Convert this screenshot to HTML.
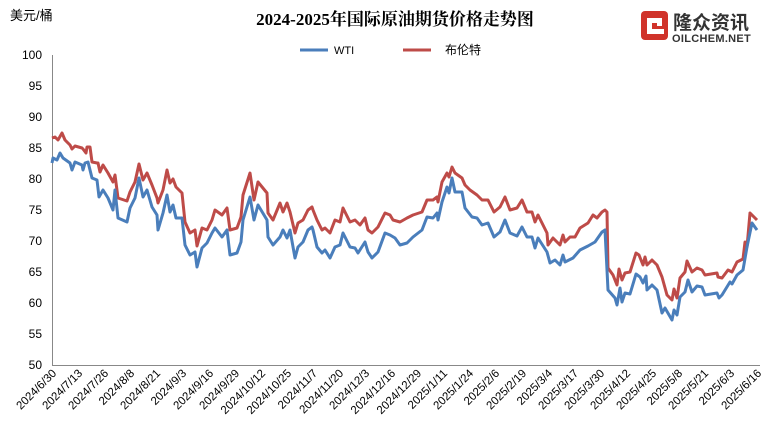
<!DOCTYPE html>
<html><head><meta charset="utf-8"><style>
body{margin:0;background:#fff;}
svg text{font-family:"Liberation Sans","Noto Sans CJK SC",sans-serif;}
</style></head><body>
<svg width="778" height="440" viewBox="0 0 778 440" xmlns="http://www.w3.org/2000/svg">
<rect width="778" height="440" fill="#fff"/>
<text x="10" y="20" font-size="13" fill="#000">美元/桶</text>
<text x="395" y="25" font-size="17" font-weight="bold" text-anchor="middle" style="font-family:'Liberation Serif','Noto Serif CJK SC',serif">2024-2025年国际原油期货价格走势图</text>
<rect x="641" y="11" width="27" height="29" rx="4" fill="#d0332a"/>
<rect x="647" y="18" width="15" height="5" fill="#fff"/>
<rect x="647" y="18" width="5" height="16" fill="#fff"/>
<rect x="647" y="29" width="17" height="5" fill="#fff"/>
<rect x="657" y="23" width="5" height="3" fill="#fff"/>
<text x="673" y="29" font-size="19" font-weight="bold" fill="#333">隆众资讯</text>
<text x="672" y="42" font-size="11" font-weight="bold" fill="#333" letter-spacing="0.3">OILCHEM.NET</text>
<line x1="300" y1="50" x2="328" y2="50" stroke="#4a7ebb" stroke-width="3"/>
<text x="334" y="54" font-size="11">WTI</text>
<line x1="403" y1="50" x2="431" y2="50" stroke="#be4b48" stroke-width="3"/>
<text x="445" y="54" font-size="12">布伦特</text>
<g font-size="12" text-anchor="end" fill="#000">
<text x="42" y="59">100</text>
<text x="42" y="90">95</text>
<text x="42" y="121">90</text>
<text x="42" y="152">85</text>
<text x="42" y="183">80</text>
<text x="42" y="214">75</text>
<text x="42" y="245">70</text>
<text x="42" y="276">65</text>
<text x="42" y="307">60</text>
<text x="42" y="338">55</text>
<text x="42" y="369">50</text>
</g>
<line x1="52.5" y1="55" x2="52.5" y2="365" stroke="#888" stroke-width="1"/>
<line x1="52" y1="365.5" x2="760" y2="365.5" stroke="#888" stroke-width="1"/>
<g stroke-width="3" fill="none" stroke-linejoin="round">
<polyline stroke="#be4b48" points="52,138 55,137 58,140 62,133 65,140 70,145 72,149 75,146 82,148 83,149 86,153 87,147 90,147 92,162 97,163 98,163 100,172 103,165 108,173 113,182 115,175 118,198 127,201 130,192 135,182 139,164 143,180 147,173 152,185 157,198 158,203 163,190 167,170 170,183 173,179 176,187 182,193 185,222 190,233 195,230 197,246 202,228 207,230 212,220 215,210 222,215 227,208 230,230 237,228 241,217 243,195 250,173 254,200 258,182 267,193 268,213 273,220 280,203 283,212 287,203 290,212 295,233 298,223 303,220 308,210 312,207 313,210 317,220 322,230 325,228 330,233 335,220 340,222 343,208 350,222 355,220 360,225 365,218 368,230 372,233 378,227 385,213 390,215 393,220 400,222 407,218 413,215 422,212 427,200 433,200 437,197 438,202 442,182 447,173 449,177 452,167 455,173 462,178 465,185 470,190 477,195 482,200 488,200 494,212 500,207 505,197 510,210 517,208 522,200 527,212 532,212 535,222 538,215 547,233 548,245 553,238 560,245 563,235 565,242 570,237 575,237 580,228 588,223 593,215 597,218 602,212 605,210 607,212 608,268 613,275 617,285 619,269 622,280 625,273 630,272 636,253 639,255 643,265 645,257 647,265 652,260 657,265 662,277 667,295 672,300 674,289 677,298 680,278 685,272 687,261 692,272 697,268 702,270 705,275 717,273 718,277 722,278 728,270 732,272 737,262 743,259 745,242 747,247 750,213 757,220"/>
<polyline stroke="#4a7ebb" points="52,163 53,158 57,160 60,153 63,158 70,163 72,170 75,162 82,165 83,170 85,163 88,162 92,178 97,180 99,197 103,190 108,198 113,210 115,190 118,218 127,222 130,208 135,198 139,178 143,197 147,190 152,207 157,215 158,230 163,213 167,195 170,212 173,205 176,218 182,218 185,245 190,255 195,252 197,267 202,248 207,243 212,233 215,228 222,237 227,230 230,255 237,253 241,242 243,220 250,197 254,220 258,205 267,220 268,237 273,245 280,237 283,230 287,238 290,230 295,258 298,247 303,242 308,230 312,227 313,230 317,247 322,253 325,250 330,258 335,247 340,245 343,233 350,247 355,248 358,253 365,242 368,252 372,258 378,252 385,233 390,235 395,238 400,245 407,243 413,237 422,230 427,217 433,218 437,213 438,220 442,202 447,187 449,193 452,178 455,192 462,192 465,208 472,217 477,218 482,225 488,223 494,237 500,232 505,220 510,233 517,236 522,227 527,237 532,237 535,248 538,238 547,252 550,263 555,260 560,265 563,255 565,262 573,258 580,250 588,246 595,242 602,232 605,230 608,290 615,298 617,305 620,288 622,302 625,293 630,294 636,274 640,277 643,283 646,276 647,290 652,285 657,290 662,313 665,308 672,320 674,310 677,315 680,297 685,292 688,280 692,292 697,286 702,287 705,295 717,293 719,298 722,295 730,282 732,284 737,275 743,270 747,247 752,223 757,230"/>
</g>
<g font-size="11.5" text-anchor="end" fill="#000">
<text transform="translate(57,374) rotate(-45)">2024/6/30</text>
<text transform="translate(83,374) rotate(-45)">2024/7/13</text>
<text transform="translate(109,374) rotate(-45)">2024/7/26</text>
<text transform="translate(135,374) rotate(-45)">2024/8/8</text>
<text transform="translate(161,374) rotate(-45)">2024/8/21</text>
<text transform="translate(187,374) rotate(-45)">2024/9/3</text>
<text transform="translate(214,374) rotate(-45)">2024/9/16</text>
<text transform="translate(240,374) rotate(-45)">2024/9/29</text>
<text transform="translate(266,374) rotate(-45)">2024/10/12</text>
<text transform="translate(292,374) rotate(-45)">2024/10/25</text>
<text transform="translate(318,374) rotate(-45)">2024/11/7</text>
<text transform="translate(344,374) rotate(-45)">2024/11/20</text>
<text transform="translate(370,374) rotate(-45)">2024/12/3</text>
<text transform="translate(396,374) rotate(-45)">2024/12/16</text>
<text transform="translate(422,374) rotate(-45)">2024/12/29</text>
<text transform="translate(448,374) rotate(-45)">2025/1/11</text>
<text transform="translate(474,374) rotate(-45)">2025/1/24</text>
<text transform="translate(500,374) rotate(-45)">2025/2/6</text>
<text transform="translate(527,374) rotate(-45)">2025/2/19</text>
<text transform="translate(553,374) rotate(-45)">2025/3/4</text>
<text transform="translate(579,374) rotate(-45)">2025/3/17</text>
<text transform="translate(605,374) rotate(-45)">2025/3/30</text>
<text transform="translate(631,374) rotate(-45)">2025/4/12</text>
<text transform="translate(657,374) rotate(-45)">2025/4/25</text>
<text transform="translate(683,374) rotate(-45)">2025/5/8</text>
<text transform="translate(709,374) rotate(-45)">2025/5/21</text>
<text transform="translate(735,374) rotate(-45)">2025/6/3</text>
<text transform="translate(762,374) rotate(-45)">2025/6/16</text>
</g>
</svg>
</body></html>
